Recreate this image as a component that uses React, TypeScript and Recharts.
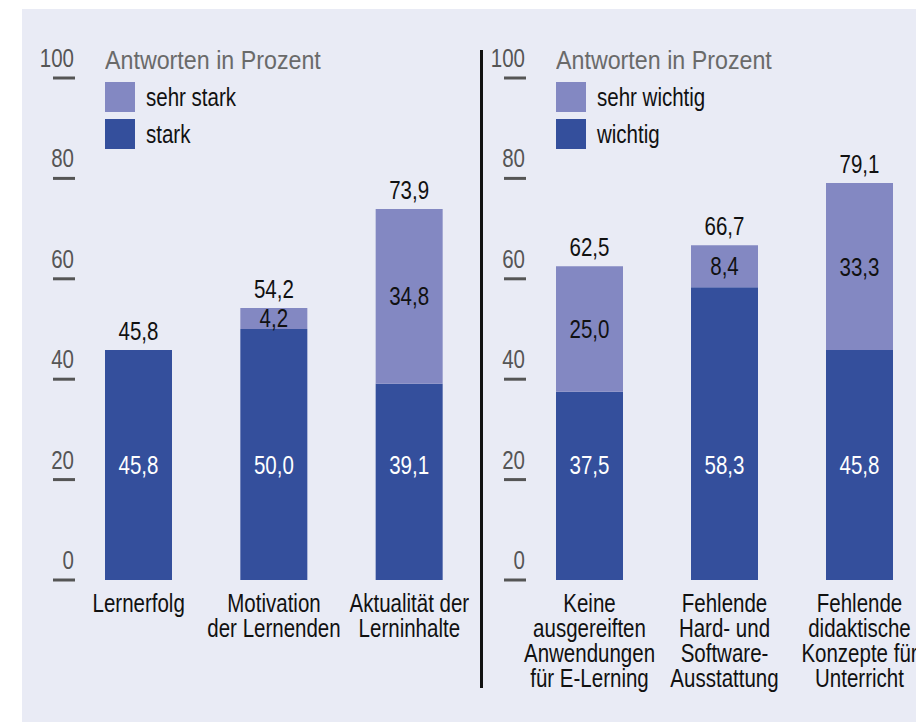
import React from 'react';
import { BarChart, Bar, XAxis, YAxis, Legend, LabelList } from 'recharts';

const FONT = '"Liberation Sans", Arial, sans-serif';
const DARK = '#344f9c';
const LIGHT = '#8388c2';
const BG = '#e9ebf5';
const SQUEEZE = 0.82; // condensed look

// left panel
const leftCategories = ['Lernerfolg', 'Motivation\nder Lernenden', 'Aktualität der\nLerninhalte'];
const leftStark = [45.8, 50.0, 39.1];
const leftSehrStark = [0, 4.2, 34.8];
const leftTotals = [45.8, 54.2, 73.9];

// right panel
const rightCategories = [
  'Keine\nausgereiften\nAnwendungen\nfür E-Lerning',
  'Fehlende\nHard- und\nSoftware-\nAusstattung',
  'Fehlende\ndidaktische\nKonzepte für\nUnterricht',
];
const rightWichtig = [37.5, 58.3, 45.8];
const rightSehrWichtig = [25.0, 8.4, 33.3];
const rightTotals = [62.5, 66.7, 79.1];

const yTicks = [0, 20, 40, 60, 80, 100];

const fmt = (v: number) => Number(v).toFixed(1).replace('.', ',');

const txt = { fontFamily: FONT, fontSize: 25 };

// svg text squeezed horizontally around its anchor point
const NText = ({ x, y, anchor = 'middle', fill = '#111', children }: any) => (
  <text transform={`translate(${x},${y}) scale(${SQUEEZE},1)`} textAnchor={anchor} fill={fill} style={txt}>
    {children}
  </text>
);

const YTick = (props: any) => {
  const { x, y, payload } = props;
  return (
    <g>
      <NText x={x + 3} y={y - 11} anchor="end" fill="#555">{payload.value}</NText>
      <line x1={x - 18} x2={x + 4} y1={y} y2={y} stroke="#555" strokeWidth={3} />
    </g>
  );
};

const XTick = (props: any) => {
  const { x, y, payload } = props;
  const lines = String(payload.value).split('\n');
  return (
    <NText x={x} y={y}>
      {lines.map((l, i) => (
        <tspan key={i} x={0} dy={i === 0 ? 32 : 25}>{l}</tspan>
      ))}
    </NText>
  );
};

const BaseLabel = (props: any) => {
  const { x, y, width, height, value } = props;
  return <NText x={x + width / 2} y={y + height - 106} fill="#fff">{fmt(value)}</NText>;
};

const TopSegLabel = (props: any) => {
  const { x, y, width, height, value } = props;
  if (!value) return null;
  return <NText x={x + width / 2} y={y + height / 2 + 9}>{fmt(value)}</NText>;
};

// total above the stack; `show` decides whether this bar draws it for a row
const TotalLabel = (props: any) => {
  const { x, y, width, value, index, show } = props;
  if (show && !show(index)) return null;
  return <NText x={x + width / 2} y={y - 10}>{fmt(value)}</NText>;
};

const LegendBox = (props: any) => {
  const items = props.payload || [];
  return (
    <div style={{ fontFamily: FONT, fontSize: 25, lineHeight: '30px' }}>
      <div style={{ color: '#6a6a6a', height: 30, transform: 'scaleX(0.93)', transformOrigin: 'left', whiteSpace: 'nowrap' }}>
        Antworten in Prozent
      </div>
      {items.map((it: any) => (
        <div key={it.value} style={{ display: 'flex', alignItems: 'center', height: 30, marginTop: 7, color: '#111' }}>
          <div style={{ width: 30, height: 30, background: it.color, marginRight: 11, flexShrink: 0 }} />
          <span style={{ transform: `scaleX(${SQUEEZE})`, transformOrigin: 'left', whiteSpace: 'nowrap' }}>{it.value}</span>
        </div>
      ))}
    </div>
  );
};

type PanelProps = {
  categories: string[];
  base: number[];
  top: number[];
  totals: number[];
  baseName: string;
  topName: string;
  width: number;
  axisWidth: number;
};

const Panel = ({ categories, base, top, totals, baseName, topName, width, axisWidth }: PanelProps) => {
  const data = categories.map((name, i) => ({ name, base: base[i], top: top[i], total: totals[i] }));
  // rows without an upper segment get their total from the lower bar
  const flat = (i: number) => !top[i];
  return (
    <BarChart width={width} height={722} data={data} margin={{ top: 78, right: 3, bottom: 12, left: 0 }}>
      <XAxis dataKey="name" axisLine={false} tickLine={false} tickSize={0} tickMargin={0} height={130} interval={0} tick={<XTick />} />
      <YAxis domain={[0, 100]} ticks={yTicks} axisLine={false} tickLine={false} tickSize={0} tickMargin={0} width={axisWidth} tick={<YTick />} />
      <Legend
        layout="horizontal"
        verticalAlign="middle"
        align="center"
        content={<LegendBox />}
        wrapperStyle={{ left: axisWidth + 34, top: 45, width: 260 }}
      />
      <Bar dataKey="base" name={baseName} stackId="a" fill={DARK} barSize={67} isAnimationActive={false}>
        <LabelList dataKey="base" content={<BaseLabel />} />
        <LabelList dataKey="total" content={<TotalLabel show={flat} />} />
      </Bar>
      <Bar dataKey="top" name={topName} stackId="a" fill={LIGHT} barSize={67} isAnimationActive={false}>
        <LabelList dataKey="top" content={<TopSegLabel />} />
        <LabelList dataKey="total" content={<TotalLabel />} />
      </Bar>
    </BarChart>
  );
};

export default function App() {
  return (
    <div style={{ position: 'absolute', left: 0, top: 0, width: 916, height: 722, background: '#fff', overflow: 'hidden' }}>
      <div style={{ position: 'absolute', left: 22, top: 9, width: 894, height: 713, background: BG }} />
      <div style={{ position: 'absolute', left: 0, top: 0 }}>
        <Panel
          categories={leftCategories}
          base={leftStark}
          top={leftSehrStark}
          totals={leftTotals}
          baseName="stark"
          topName="sehr stark"
          width={480}
          axisWidth={71}
        />
      </div>
      <div style={{ position: 'absolute', left: 480, top: 50, width: 3, height: 638, background: '#111' }} />
      <div style={{ position: 'absolute', left: 480, top: 0 }}>
        <Panel
          categories={rightCategories}
          base={rightWichtig}
          top={rightSehrWichtig}
          totals={rightTotals}
          baseName="wichtig"
          topName="sehr wichtig"
          width={450}
          axisWidth={42}
        />
      </div>
    </div>
  );
}
